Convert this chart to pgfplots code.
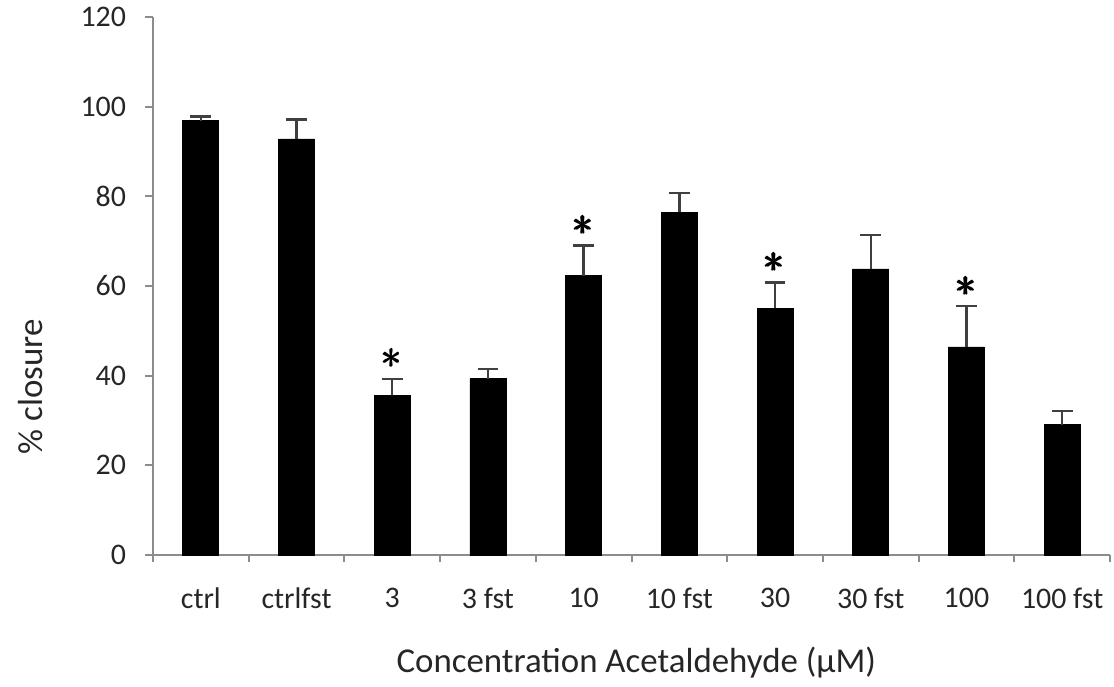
\documentclass[border=0pt]{standalone}
\usepackage{amsmath}
\usepackage{pgfplots}
\pgfplotsset{compat=1.18}
\usepackage{fontspec}
\setmainfont{Carlito}
\definecolor{axgray}{HTML}{8C8C8C}
\definecolor{txt}{HTML}{262626}
\begin{document}
\begin{tikzpicture}
\begin{axis}[
  scale only axis,
  width=478.5bp, height=269bp,
  xmin=-0.5, xmax=9.5,
  ymin=0, ymax=120,
  axis lines=left,
  axis line style={axgray, line width=1bp, -},
  ytick={0,20,...,120},
  xtick={0,...,9},
  xticklabels={ctrl,ctrlfst,3,3 fst,10,10 fst,30,30 fst,100,100 fst},
  minor xtick={-0.5,0.5,...,9.5},
  major x tick style={draw=none},
  minor x tick style={axgray, line width=1bp},
  y tick style={axgray, line width=1bp},
  tick align=outside,
  major tick length=4bp,
  minor tick length=3.5bp,
  /pgf/number format/assume math mode=true,
  tick label style={font=\fontsize{15}{15}\selectfont, text=txt},
  xticklabel style={yshift=-9bp},
  yticklabel style={xshift=-6bp},
  label style={font=\fontsize{17.5}{17.5}\selectfont, text=txt},
  xlabel={Concentration Acetaldehyde (µM)},
  ylabel={\% closure},
  xlabel style={at={(axis description cs:0.505,-0.199)}, anchor=center},
  ylabel style={at={(axis description cs:-0.1275,0.313)}, anchor=center, rotate=0},
  clip=false,
]
\addplot[ybar, bar width=18bp, fill=black, draw=black,
  error bars/.cd, y dir=plus, y explicit,
  error bar style={black!75, line width=1.2bp},
  error mark options={rotate=90, mark size=5.2bp, line width=1.2bp, black!75}]
  table[x=x, y=y, y error=e] {
x y e
0 96.9 0.9
1 92.8 4.3
2 35.6 3.7
3 39.3 2.2
4 62.3 6.7
5 76.4 4.3
6 55.0 5.8
7 63.8 7.6
8 46.4 9.1
9 29.1 3.0
};
\addplot[draw=none, mark=none, nodes near coords={$\pmb{\ast}$},
  every node near coord/.style={font=\fontsize{20}{20}\selectfont, anchor=base, yshift=5bp, inner sep=0pt, text=black}]
  coordinates {(2,39.3) (4,69.0) (6,60.8) (8,55.5)};
\end{axis}
\pgfresetboundingbox
\path (current axis.south west) ++(-76.5bp,-65.5bp) coordinate (bl);
\path (current axis.north east) ++(2bp,8.5bp) coordinate (tr);
\path[use as bounding box] (bl) rectangle (tr);
\end{tikzpicture}
\end{document}
